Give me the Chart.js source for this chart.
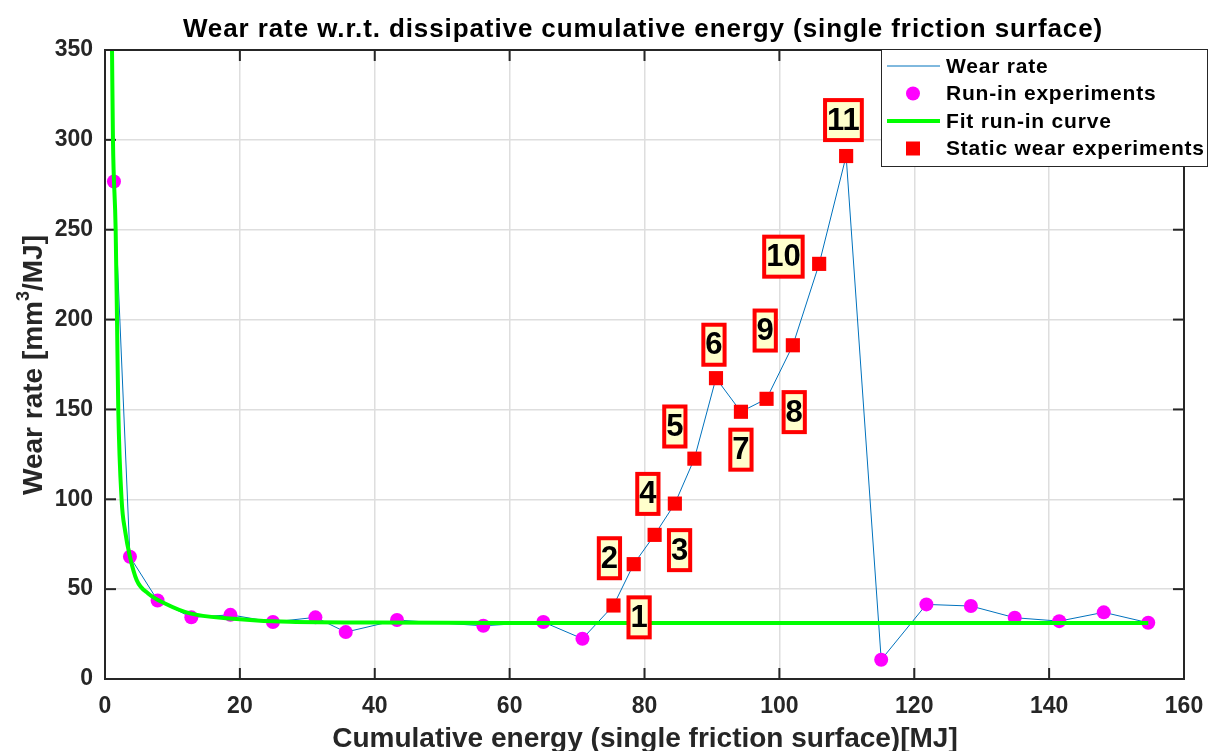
<!DOCTYPE html>
<html>
<head>
<meta charset="utf-8">
<title>Wear rate w.r.t. dissipative cumulative energy</title>
<script src="https://cdn.jsdelivr.net/npm/chart.js"></script>
<style>
  body { margin: 0; background: #fff; }
</style>
</head>
<body>
<canvas id="wearChart" width="1210" height="751"></canvas>
<script>
// run-in experiments: cumulative energy [MJ] and wear rate [mm3/MJ]
const runInEnergy = [1.33, 3.7, 7.8, 12.8, 18.6, 24.9, 31.2, 35.7, 43.3, 56.1, 65.0, 70.8,
                     115.1, 121.8, 128.4, 134.9, 141.5, 148.1, 154.7];
const runInRate = [276.8, 68, 43.7, 34.3, 35.7, 31.7, 34.3, 26.1, 32.8, 29.6, 31.7, 22.4,
                   10.7, 41.5, 40.6, 34.1, 32.2, 37.1, 31.3];

// static wear experiments 1..11
const staticEnergy = [75.4, 78.4, 81.5, 84.5, 87.4, 90.6, 94.3, 98.1, 102.0, 105.9, 109.9];
const staticRate = [40.9, 63.9, 80.2, 97.6, 122.6, 167.4, 148.7, 155.9, 185.7, 231, 291];
const staticNames = ['1', '2', '3', '4', '5', '6', '7', '8', '9', '10', '11'];
// where each number tag sits (data coordinates)
const tagEnergy = [79.2, 74.8, 85.2, 80.5, 84.5, 90.3, 94.3, 102.2, 97.9, 100.6, 109.5];
const tagRate = [34.3, 67.2, 71.7, 103, 140.5, 186, 127.6, 148.5, 193.9, 235, 311];

// fitted run-in curve
const fitEnergy = [1.04, 1.18, 1.58, 1.78, 1.97, 2.46, 3.0, 3.7, 4.7, 6.4, 8.9, 12.6, 18.5, 27.4, 40, 60, 100, 154.7];
const fitRate = [350, 300, 250, 200, 150, 100, 82, 68, 55, 47.6, 42, 36.5, 33.7, 31.8, 31.4, 31.2, 31.2, 31.2];

const xTickValues = [0, 20, 40, 60, 80, 100, 120, 140, 160];
const yTickValues = [0, 50, 100, 150, 200, 250, 300, 350];

const legendNames = ['Wear rate', 'Run-in experiments', 'Fit run-in curve', 'Static wear experiments'];

// the wear-rate line joins every experiment in energy order
const allPoints = runInEnergy.map((e, i) => ({ x: e, y: runInRate[i] }))
    .concat(staticEnergy.map((e, i) => ({ x: e, y: staticRate[i] })))
    .sort((a, b) => a.x - b.x);

const FONT = 'Liberation Sans, Arial, sans-serif';
const AXIS_COLOR = '#262626';

function line(ctx, x1, y1, x2, y2) {
    ctx.beginPath();
    ctx.moveTo(x1, y1);
    ctx.lineTo(x2, y2);
    ctx.stroke();
}

const decor = {
    id: 'decor',
    beforeDatasetsDraw(chart) {
        const { ctx, chartArea: a, scales: { x, y } } = chart;
        ctx.save();
        ctx.strokeStyle = AXIS_COLOR;
        ctx.lineWidth = 2;
        xTickValues.forEach(v => {
            const px = x.getPixelForValue(v);
            line(ctx, px, a.bottom, px, a.bottom - 11);
            line(ctx, px, a.top, px, a.top + 11);
        });
        yTickValues.forEach(v => {
            const py = y.getPixelForValue(v);
            line(ctx, a.left, py, a.left + 11, py);
            line(ctx, a.right, py, a.right - 11, py);
        });
        ctx.restore();
    },
    afterDraw(chart) {
        const { ctx, chartArea: a, scales: { x, y } } = chart;
        ctx.save();

        // axes box
        ctx.strokeStyle = AXIS_COLOR;
        ctx.lineWidth = 2;
        ctx.strokeRect(a.left, a.top, a.right - a.left, a.bottom - a.top);

        // number tags on the static experiments
        ctx.font = 'bold 31px ' + FONT;
        ctx.textAlign = 'center';
        ctx.textBaseline = 'middle';
        staticNames.forEach((t, i) => {
            const cx = x.getPixelForValue(tagEnergy[i]);
            const cy = y.getPixelForValue(tagRate[i]);
            const w = ctx.measureText(t).width + 4;
            const h = 40;
            ctx.fillStyle = '#ffffcc';
            ctx.fillRect(cx - w / 2, cy - h / 2, w, h);
            ctx.strokeStyle = '#ff0000';
            ctx.lineWidth = 4;
            ctx.strokeRect(cx - w / 2, cy - h / 2, w, h);
            ctx.fillStyle = '#000';
            ctx.fillText(t, cx, cy + 1);
        });

        // legend
        const lx = 881.5, ly = 49.5, lw = 326, lh = 117;
        ctx.fillStyle = '#fff';
        ctx.fillRect(lx, ly, lw, lh);
        ctx.strokeStyle = AXIS_COLOR;
        ctx.lineWidth = 1;
        ctx.strokeRect(lx, ly, lw, lh);
        const rows = [66, 93.5, 121, 148.5];
        ctx.font = 'bold 21px ' + FONT;
        ctx.letterSpacing = '0.8px';
        ctx.textAlign = 'left';
        ctx.textBaseline = 'middle';
        legendNames.forEach((name, i) => {
            const ry = rows[i];
            if (i === 0) {
                ctx.strokeStyle = '#0072BD';
                ctx.lineWidth = 1;
                line(ctx, 887, ry, 940, ry);
            } else if (i === 1) {
                ctx.fillStyle = '#ff00ff';
                ctx.beginPath();
                ctx.arc(913, ry, 7, 0, Math.PI * 2);
                ctx.fill();
            } else if (i === 2) {
                ctx.strokeStyle = '#00ff00';
                ctx.lineWidth = 4;
                line(ctx, 887, ry, 940, ry);
            } else {
                ctx.fillStyle = '#ff0000';
                ctx.fillRect(906, ry - 7, 14, 14);
            }
            ctx.fillStyle = '#000';
            ctx.fillText(name, 946, ry + 1);
        });

        // title
        ctx.fillStyle = '#000';
        ctx.textAlign = 'center';
        ctx.textBaseline = 'alphabetic';
        ctx.font = 'bold 26px ' + FONT;
        ctx.letterSpacing = '0.9px';
        ctx.fillText('Wear rate w.r.t. dissipative cumulative energy (single friction surface)', 643, 37);
        ctx.letterSpacing = '0px';

        // x axis title
        ctx.fillStyle = AXIS_COLOR;
        ctx.font = 'bold 28px ' + FONT;
        ctx.fillText('Cumulative energy (single friction surface)[MJ]', 645, 747);

        // y axis title with superscript
        ctx.translate(42, 365);
        ctx.rotate(-Math.PI / 2);
        const big = 'bold 28px ' + FONT, small = 'bold 18px ' + FONT;
        const p1 = 'Wear rate [mm', p2 = '3', p3 = '/MJ]';
        ctx.font = big;
        const w1 = ctx.measureText(p1).width, w3 = ctx.measureText(p3).width;
        ctx.font = small;
        const w2 = ctx.measureText(p2).width;
        const sx = -(w1 + w2 + w3) / 2;
        ctx.textAlign = 'left';
        ctx.font = big;
        ctx.fillText(p1, sx, 0);
        ctx.font = small;
        ctx.fillText(p2, sx + w1, -13);
        ctx.font = big;
        ctx.fillText(p3, sx + w1 + w2, 0);
        ctx.restore();
    }
};

const ctx = document.getElementById('wearChart').getContext('2d');
const chart = new Chart(ctx, {
    type: 'scatter',
    data: {
        datasets: [
            {
                label: legendNames[0],
                type: 'line',
                data: allPoints,
                borderColor: '#0072BD',
                borderWidth: 1,
                pointRadius: 0,
                fill: false,
                order: 4
            },
            {
                label: legendNames[1],
                data: runInEnergy.map((e, i) => ({ x: e, y: runInRate[i] })),
                backgroundColor: '#ff00ff',
                borderWidth: 0,
                pointRadius: 7,
                pointHoverRadius: 7,
                order: 3
            },
            {
                label: legendNames[2],
                type: 'line',
                data: fitEnergy.map((e, i) => ({ x: e, y: fitRate[i] })),
                borderColor: '#00ff00',
                borderWidth: 4,
                pointRadius: 0,
                cubicInterpolationMode: 'monotone',
                fill: false,
                order: 2
            },
            {
                label: legendNames[3],
                data: staticEnergy.map((e, i) => ({ x: e, y: staticRate[i] })),
                backgroundColor: '#ff0000',
                borderWidth: 0,
                pointStyle: 'rect',
                pointRadius: 10,
                pointHoverRadius: 10,
                order: 1
            }
        ]
    },
    options: {
        responsive: false,
        animation: false,
        devicePixelRatio: 1,
        layout: { padding: { top: 50, right: 26, left: 0, bottom: 0 } },
        plugins: {
            legend: { display: false },
            tooltip: { enabled: false }
        },
        scales: {
            x: {
                type: 'linear',
                min: 0,
                max: 160,
                afterBuildTicks: s => { s.ticks = xTickValues.map(v => ({ value: v })); },
                afterFit: s => { s.height = 72; s.paddingLeft = 0; s.paddingRight = 0; },
                ticks: {
                    color: AXIS_COLOR,
                    padding: 14,
                    maxRotation: 0,
                    font: { family: FONT, size: 23, weight: 'bold' }
                },
                grid: { color: '#dedede', lineWidth: 1.5, drawTicks: false },
                border: { display: false }
            },
            y: {
                type: 'linear',
                min: 0,
                max: 350,
                afterBuildTicks: s => { s.ticks = yTickValues.map(v => ({ value: v })); },
                afterFit: s => { s.width = 105; s.paddingTop = 0; s.paddingBottom = 0; },
                ticks: {
                    color: AXIS_COLOR,
                    padding: 12,
                    font: { family: FONT, size: 23, weight: 'bold' }
                },
                grid: { color: '#dedede', lineWidth: 1.5, drawTicks: false },
                border: { display: false }
            }
        }
    },
    plugins: [decor]
});
</script>
</body>
</html>
